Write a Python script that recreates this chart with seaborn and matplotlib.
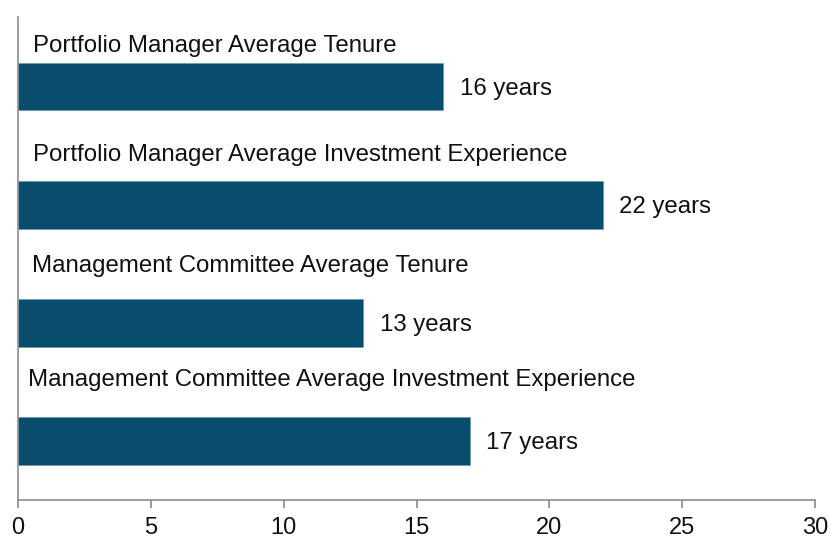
import pandas as pd
import seaborn as sns
import matplotlib.pyplot as plt

# data
categories = ["Portfolio Manager Average Tenure",
              "Portfolio Manager Average Investment Experience",
              "Management Committee Average Tenure",
              "Management Committee Average Investment Experience"]
years = [16, 22, 13, 17]

df = pd.DataFrame({"category": categories, "years": years})

sns.set_theme(style="white")
plt.rcParams['font.family'] = ['Liberation Sans', 'DejaVu Sans']

fig = plt.figure(figsize=(8.3, 5.38), dpi=100)
ax = fig.add_axes([0.0217, 0.0706, 0.9603, 0.8974])

sns.barplot(data=df, x="years", y="category", orient="h", color="#084C6E",
            width=0.4, saturation=1, edgecolor="#6f93a8", linewidth=0.4, ax=ax)

# text above each bar + value label at bar end
lab_dy = [-0.35, -0.42, -0.48, -0.52]
lab_dx = [0.56, 0.56, 0.53, 0.38]
for i, (cat, v) in enumerate(zip(categories, years)):
    ax.text(lab_dx[i], i + lab_dy[i], cat, fontsize=17.25, va="center", ha="left", color="#111111")
    ax.text(v + 0.62, i + 0.015, f"{v} years", fontsize=17.25, va="center", ha="left", color="#111111")

ax.set_xlim(0, 30)
ax.set_ylim(3.5, -0.59)
ax.set_xticks(range(0, 31, 5))
ax.set_yticks([])
ax.set_xlabel("")
ax.set_ylabel("")

for s in ["top", "right"]:
    ax.spines[s].set_visible(False)
for s in ["left", "bottom"]:
    ax.spines[s].set_color("#8c8c8c")
    ax.spines[s].set_linewidth(1.2)

ax.tick_params(axis="x", direction="out", length=6, width=1.2, color="#8c8c8c",
               bottom=True, pad=6)
for t in ax.get_xticklabels():
    t.set_fontfamily(['Liberation Sans Narrow', 'Liberation Sans'])
    t.set_fontsize(17)
    t.set_color("#111111")

fig.savefig("out.png", dpi=100)
